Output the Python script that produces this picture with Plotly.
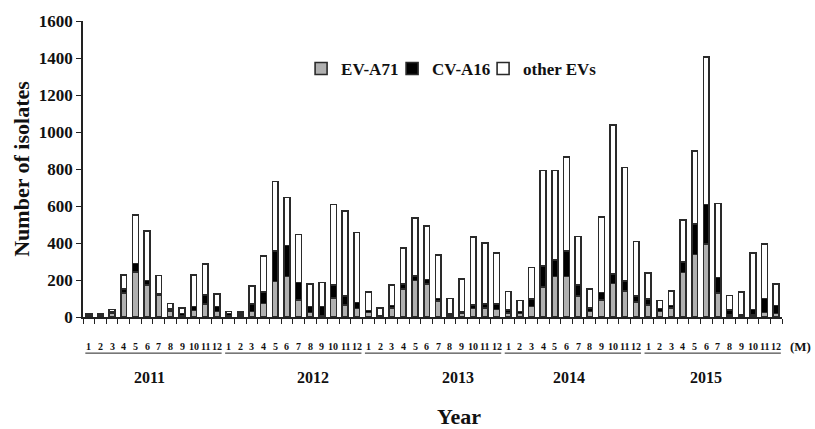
import plotly.graph_objects as go

years = ["2011", "2012", "2013", "2014", "2015"]
months = list(range(1, 13))

ev_a71 = [5, 5, 21, 131, 242, 173, 120, 33, 8, 35, 70, 30,
          8, 10, 30, 74, 191, 220, 92, 25, 7, 103, 64, 46,
          25, 3, 48, 152, 197, 179, 85, 10, 23, 46, 50, 41,
          21, 20, 57, 163, 218, 218, 113, 30, 92, 181, 142, 82,
          64, 30, 48, 241, 337, 394, 131, 12, 4, 11, 25, 18]
cv_a16 = [3, 3, 9, 19, 48, 25, 8, 9, 10, 22, 48, 27,
          10, 12, 39, 61, 167, 166, 94, 32, 50, 71, 48, 32,
          10, 5, 14, 27, 25, 23, 14, 8, 7, 18, 19, 28,
          16, 10, 41, 112, 91, 140, 61, 20, 41, 53, 53, 30,
          32, 16, 14, 57, 167, 214, 82, 27, 7, 30, 76, 44]
other_evs = [7, 7, 10, 78, 262, 266, 97, 32, 30, 171, 167, 67,
             12, 5, 99, 195, 374, 261, 259, 122, 129, 434, 462, 379,
             100, 40, 110, 195, 313, 289, 236, 81, 176, 367, 332, 277,
             100, 60, 170, 518, 484, 507, 262, 102, 408, 803, 613, 296,
             143, 44, 78, 227, 393, 798, 400, 78, 124, 305, 294, 117]

y_ticks = [0, 200, 400, 600, 800, 1000, 1200, 1400, 1600]

FONT = "Liberation Serif, Times New Roman, serif"
n = len(years) * len(months)
xs = list(range(n))

fig = go.Figure()
series = [("EV-A71", ev_a71, "#b0b0b0", 46), ("CV-A16", cv_a16, "#000000", 46),
          ("other EVs", other_evs, "#ffffff", 80)]
for name, vals, col, lw in series:
    fig.add_trace(go.Bar(x=xs, y=vals, name=name, width=0.5, legendwidth=lw,
                         marker=dict(color=col, line=dict(color="#2a2a2a", width=1.6))))

annotations = []
shapes = []
for yi, yr in enumerate(years):
    base = yi * 12
    for m in months:
        annotations.append(dict(x=base + m - 1, y=-0.1, xref="x", yref="paper", text=str(m),
                                showarrow=False, yanchor="middle", xanchor="center",
                                font=dict(family=FONT, size=10, color="#111", weight="bold")))
    shapes.append(dict(type="line", xref="x", yref="paper", x0=base - 0.3, x1=base + 11.4,
                       y0=-0.122, y1=-0.122, line=dict(color="#222", width=1)))

year_pos = [5.2, 19.2, 31.7, 41.2, 53.0]
for yr, xp in zip(years, year_pos):
    annotations.append(dict(x=xp, y=-0.203, xref="x", yref="paper", text=yr, showarrow=False,
                            yanchor="middle", xanchor="center",
                            font=dict(family=FONT, size=16, color="#111", weight="bold")))

annotations.append(dict(x=1.026, y=-0.1, xref="paper", yref="paper", text="(M)", showarrow=False,
                        yanchor="middle", xanchor="center",
                        font=dict(family=FONT, size=13, color="#111", weight="bold")))
annotations.append(dict(x=0.538, y=-0.335, xref="paper", yref="paper", text="Year", showarrow=False,
                        yanchor="middle", xanchor="center",
                        font=dict(family=FONT, size=22, color="#111", weight="bold")))

fig.update_layout(
    width=815, height=429,
    margin=dict(l=83, r=33, t=17, b=112),
    paper_bgcolor="white", plot_bgcolor="white",
    barmode="stack",
    showlegend=True,
    legend=dict(orientation="h", x=0.312, y=0.838, xanchor="left", yanchor="middle",
                entrywidthmode="pixels",
                font=dict(family=FONT, size=17, color="#111", weight="bold"),
                bgcolor="rgba(0,0,0,0)", traceorder="normal"),
    xaxis=dict(range=[-0.5, n - 0.5], tickmode="array",
               tickvals=[i - 0.5 for i in range(n + 1)], ticktext=[""] * (n + 1),
               ticks="outside", ticklen=5, tickcolor="#222", showline=True, linecolor="#222",
               linewidth=1.5, showgrid=False, zeroline=False),
    yaxis=dict(range=[0, 1600], tickmode="array", tickvals=y_ticks,
               ticks="outside", ticklen=5, tickcolor="#222", showline=True, linecolor="#222",
               linewidth=1.5, showgrid=False, zeroline=False,
               tickfont=dict(family=FONT, size=17, color="#111", weight="bold"),
               title=dict(text="Number of isolates", standoff=3,
                          font=dict(family=FONT, size=22, color="#111", weight="bold"))),
    annotations=annotations, shapes=shapes,
)

fig.write_html("out.html", config={"displayModeBar": False},
               post_script="document.body.style.margin='0';")
